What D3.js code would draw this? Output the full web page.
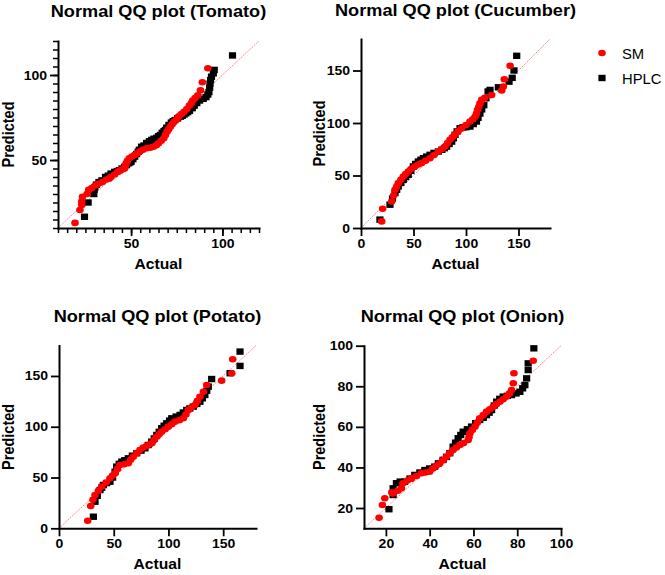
<!DOCTYPE html>
<html>
<head>
<meta charset="utf-8">
<script src="https://cdn.jsdelivr.net/npm/d3@7"></script>
<style>
  body { margin: 0; background: #fff; }
  text { font-family: Arial, "Liberation Sans", sans-serif; }
</style>
</head>
<body>
<div id="chart"></div>
<script>
// [actual, predicted] pairs
const tomatoHPLC = [[24.5,16.6],[26.5,25],[29.6,30],[29.8,32.5],[30.2,34],[31,35.5],[32.4,37],[34,38],[36,40],[37.5,40.8],[39,42],[41,43],[42.5,43.5],[43.6,44],[45,45],[46.4,46],[47.5,47],[48.5,48],[49.3,48.5],[50,49],[51,50.5],[52,52],[53,53.5],[53.9,54.9],[54.5,56],[55.7,57.8],[57,58.5],[58.5,60],[60,61],[61.3,61.8],[62.5,62.5],[64,63],[65,64],[66,64.7],[67,66],[68,67],[68.8,67.6],[69.5,69],[70.7,70.6],[72,72],[73,72.8],[74,73.5],[75.5,74.5],[77,75.5],[78,76],[79,76.8],[80,77.5],[81,78.2],[82,79],[83.5,80.5],[84.6,82],[86,83.5],[87.5,85],[89.5,86],[91,87],[92,88.5],[92.6,90],[93,92.5],[93.2,95],[93.5,97],[94,99],[95,101],[95.5,103],[105.5,111.5]];
const tomatoSM = [[19.3,13],[22,20.6],[23,23.5],[23,25.5],[23.4,28.4],[25.9,30],[26.8,32.4],[28.5,33.5],[30.5,35],[32,36],[34.3,37],[36.5,38.5],[38,39],[39,40],[41,41.5],[42.7,43],[44,44],[45.5,44.5],[46.4,45],[46.8,46.5],[47.3,48],[48,49.5],[49,51],[50.5,52],[52,53],[53.5,54],[54.8,55],[56.5,56],[58.5,56.9],[60.5,57.2],[62.3,57.8],[63.8,58.7],[65,59.8],[66.5,61.3],[67.9,62.8],[68.8,64.7],[69.7,66.6],[70.5,68],[71.5,69.6],[72.5,71],[73.5,72.5],[75,74],[76,75.5],[77.5,77],[79,78.4],[80.5,80],[81.9,82],[83,83.5],[83.7,85],[85,86.5],[86.5,88],[88,91],[89,95.7],[92,104]];

const cucumberHPLC = [[18,8],[27.6,22.2],[30,28],[32.4,33.3],[34,36.5],[35.5,39.6],[38,43],[40.3,45.9],[42.5,48.5],[45,50.7],[47.5,54.5],[49.8,58.6],[52,61],[54.6,63.3],[57,65],[59.4,66.5],[62.5,68],[65.7,69.7],[69.5,71.5],[73.6,72.8],[77,74.5],[79.5,76],[81.6,77.5],[84,80],[86.4,82.3],[88,85.5],[89.5,88.7],[91.5,92],[94.3,95],[97,95.8],[100,96],[103.8,96.6],[107,99],[110,101.4],[111.5,105],[113.3,109],[115,113],[117,117],[119,123.6],[121,130],[122.9,131.5],[130.8,134],[141,139.4],[144,143],[145.7,150],[148.3,164]];
const cucumberSM = [[19.7,6.3],[20.6,18.4],[29.2,25.3],[31,31],[32.4,36.4],[34,39.5],[35.5,42.8],[38,46],[40.3,49],[42.5,51.5],[45,53.8],[48,56.5],[51.4,58.6],[54.5,60.5],[57.8,61.8],[61.5,64],[65.7,66.5],[69.5,69.5],[73.6,72.8],[77,75],[80,77.6],[82.5,81],[84.8,84],[87,86.5],[89.5,88.7],[92.5,92],[95.9,95],[100,98],[103.8,101.4],[106.5,103.5],[108.6,106],[110,109],[111,112.5],[112.2,115.5],[113.3,118.8],[115,122],[118,124],[124.4,126.7],[134,131],[135.5,134.6],[136.5,141.7],[142,154.5]];

const potatoHPLC = [[31.4,11.4],[32.9,26.2],[35,32],[37.5,37.7],[39,40],[40.5,42.6],[43.5,44.5],[46.6,45.9],[49,50],[51.2,55.7],[52.7,60.7],[55,63.5],[57.3,65.6],[60,67],[63.3,68.9],[67,71.5],[71,73.9],[75,76.5],[78.6,78.8],[81.5,82],[84.7,85.3],[87,88.5],[89.3,91.9],[91.5,95],[93.8,98.5],[96,101],[98.4,103.4],[101,106],[103,108.3],[107,110],[110.6,111.6],[113.5,114],[116.7,116.5],[119.5,118],[122.7,119.8],[126,122.5],[128.8,124.7],[131,128],[133.3,131.3],[135,135.5],[136.4,139.5],[139.5,147],[156.3,152.7],[165.4,159.9],[165.4,174]];
const potatoSM = [[26.2,7.5],[29,22],[31,28],[32.9,32.8],[36,37],[39,41],[43,45],[46.6,49.2],[49,52],[51.2,54.2],[53.5,58.5],[55.7,62.3],[59.5,63],[63.3,64],[65.5,67.5],[67.9,70.5],[71,74],[74,77.1],[77,79.5],[80,81],[82.5,82.5],[84.7,83.7],[87,87],[89.3,90.2],[91.5,92.5],[93.8,95.1],[97,97.5],[99.9,100.1],[103,102.5],[106,105],[110,106.5],[113.6,108.3],[116,112],[118.2,116.5],[121,119],[124.3,121.4],[126.5,125.5],[128.8,129.6],[131.9,134.5],[135,141.1],[148.6,145.4],[157.8,152.7],[158.7,166.4]];

const onionHPLC = [[21.4,19.4],[23.3,26.4],[23.3,29.7],[24.8,32.2],[26.5,33],[28.6,33],[31,34.5],[33.2,36.3],[35.5,37.5],[37.8,38.7],[40,39.5],[42.3,40.4],[44,42],[46.1,43.7],[47.7,45.2],[49.2,47],[50.7,50.2],[51.8,52.2],[53,54.4],[54.2,56],[55.3,57.6],[57.2,58.8],[59.1,60.1],[61,61.8],[62.9,63.4],[64.5,64.5],[66,65.8],[67.2,67],[68.3,68.3],[69.5,70.5],[70.6,72.4],[72,73.8],[73.6,74.9],[75.5,75.3],[77.4,75.7],[79.5,76.5],[81.2,77.3],[82.5,79],[83.5,80.6],[84.3,83.9],[85,88],[85,91.3],[87.6,98.7]];
const onionSM = [[16.9,15.2],[18.4,21.5],[19.5,24.8],[22.7,27.7],[23.3,27.2],[25.5,28.5],[27.1,29.7],[27.8,32.2],[29.8,33.5],[31.7,34.6],[34,35.8],[36.3,37.1],[38,37.5],[40,37.9],[41.5,39.5],[43,40.8],[44.6,42],[46.2,43.6],[47.7,45.3],[49.2,47],[50.7,48.6],[52.2,49.8],[53.8,51.1],[55.5,52],[57.6,53.5],[58,55],[58.4,56.8],[59.5,58.5],[60.7,60.1],[61.8,62.2],[62.9,64.2],[64.5,65.8],[66,67.5],[67.5,68.7],[69,69.9],[70.5,71.2],[72.1,72.4],[73.6,73.6],[75.2,74.9],[76.5,76.5],[77.4,78.2],[78.2,81.5],[78.5,86.4],[87.3,92.6]];

// tick labels
const tomatoTicks = [50, 100];
const bigTicks = [0, 50, 100, 150];
const onionTicks = [20, 40, 60, 80, 100];

const seriesNames = ["SM", "HPLC"];

const W = 665, H = 575;

const svg = d3.select("#chart").append("svg")
    .attr("width", W)
    .attr("height", H)
    .style("color", "#000");

// widen text horizontally like the reference
function wide(sel, k) {
    sel.each(function() {
        const len = this.getComputedTextLength();
        d3.select(this).attr("textLength", len * k).attr("lengthAdjust", "spacingAndGlyphs");
    });
}

const panels = [
    {title: "Normal QQ plot (Tomato)", sm: tomatoSM, hplc: tomatoHPLC, dom: [10, 120], ticks: tomatoTicks, minor: 5,
     left: 58, right: 259, top: 41, bottom: 228, titleY: 17, labelX: 9},
    {title: "Normal QQ plot (Cucumber)", sm: cucumberSM, hplc: cucumberHPLC, dom: [0, 180], ticks: bigTicks, minor: 0,
     left: 361, right: 550, top: 39, bottom: 228, titleY: 16, labelX: 320},
    {title: "Normal QQ plot (Potato)", sm: potatoSM, hplc: potatoHPLC, dom: [0, 180], ticks: bigTicks, minor: 0,
     left: 59, right: 256, top: 345.5, bottom: 528.3, titleY: 322, labelX: 9},
    {title: "Normal QQ plot (Onion)", sm: onionSM, hplc: onionHPLC, dom: [10, 100], ticks: onionTicks, minor: 0,
     left: 364, right: 561, top: 345.7, bottom: 528.3, titleY: 322, labelX: 320}
];

panels.forEach(function(p) {
    const x = d3.scaleLinear().domain(p.dom).range([p.left, p.right]);
    const y = d3.scaleLinear().domain(p.dom).range([p.bottom, p.top]);
    const g = svg.append("g");

    // line of identity
    g.append("line")
        .attr("x1", x(p.dom[0])).attr("y1", y(p.dom[0]))
        .attr("x2", x(p.dom[1])).attr("y2", y(p.dom[1]))
        .attr("stroke", "#f07878")
        .attr("stroke-width", 0.9)
        .attr("stroke-dasharray", "1.5,1");

    // minor ticks
    if (p.minor) {
        const mt = d3.range(p.dom[0], p.dom[1] + 0.01, p.minor);
        g.append("g")
            .attr("transform", "translate(0," + p.bottom + ")")
            .call(d3.axisBottom(x).tickValues(mt).tickSize(5).tickFormat("").tickSizeOuter(0))
            .call(s => s.select(".domain").remove())
            .selectAll("line").attr("stroke-width", 1.5);
        g.append("g")
            .attr("transform", "translate(" + p.left + ",0)")
            .call(d3.axisLeft(y).tickValues(mt).tickSize(5).tickFormat("").tickSizeOuter(0))
            .call(s => s.select(".domain").remove())
            .selectAll("line").attr("stroke-width", 1.5);
    }

    // x axis
    const xa = g.append("g")
        .attr("transform", "translate(0," + p.bottom + ")")
        .call(d3.axisBottom(x).tickValues(p.ticks).tickSize(8).tickPadding(3).tickSizeOuter(0));
    // y axis
    const ya = g.append("g")
        .attr("transform", "translate(" + p.left + ",0)")
        .call(d3.axisLeft(y).tickValues(p.ticks).tickSize(8).tickPadding(3).tickSizeOuter(0));

    [xa, ya].forEach(function(a) {
        a.select(".domain").attr("stroke-width", 2).attr("stroke-linecap", "square");
        a.selectAll(".tick line").attr("stroke-width", 1.8);
        a.selectAll(".tick text")
            .attr("font-size", 12.5)
            .attr("font-weight", "bold")
            .attr("fill", "#000")
            .call(wide, 1.12);
    });

    // points: HPLC squares then SM dots
    g.append("g").selectAll("rect")
        .data(p.hplc)
        .enter()
        .append("rect")
        .attr("x", d => x(d[0]) - 3.6)
        .attr("y", d => y(d[1]) - 3.2)
        .attr("width", 7.2)
        .attr("height", 6.4)
        .attr("fill", "#000");

    g.append("g").selectAll("ellipse")
        .data(p.sm)
        .enter()
        .append("ellipse")
        .attr("cx", d => x(d[0]))
        .attr("cy", d => y(d[1]))
        .attr("rx", 3.8)
        .attr("ry", 3.3)
        .attr("fill", "#ff0000");

    // titles
    const cx = (p.left + p.right) / 2;
    g.append("text")
        .attr("x", cx)
        .attr("y", p.titleY)
        .attr("text-anchor", "middle")
        .attr("font-size", 16.5)
        .attr("font-weight", "bold")
        .text(p.title)
        .call(wide, 1.1);

    g.append("text")
        .attr("x", cx)
        .attr("y", p.bottom + 41)
        .attr("text-anchor", "middle")
        .attr("font-size", 14.5)
        .attr("font-weight", "bold")
        .text("Actual")
        .call(wide, 1.08);

    g.append("text")
        .attr("transform", "translate(" + (p.labelX + 5) + "," + ((p.top + p.bottom) / 2) + ") scale(1.12,1) rotate(-90)")
        .attr("text-anchor", "middle")
        .attr("font-size", 14.5)
        .attr("font-weight", "bold")
        .text("Predicted");
});

// legend
const legend = svg.append("g").attr("transform", "translate(602,53)");
legend.append("ellipse").attr("cx", 0).attr("cy", 0).attr("rx", 3.8).attr("ry", 3.3).attr("fill", "#ff0000");
legend.append("rect").attr("x", -3.6).attr("y", 21.8).attr("width", 7.2).attr("height", 6.4).attr("fill", "#000");
legend.selectAll("text.lab")
    .data(seriesNames)
    .enter()
    .append("text")
    .attr("class", "lab")
    .attr("x", 20)
    .attr("y", (d, i) => 5.5 + i * 25)
    .attr("font-size", 14.5)
    .text(d => d)
    .call(wide, 1.02);
</script>
</body>
</html>
